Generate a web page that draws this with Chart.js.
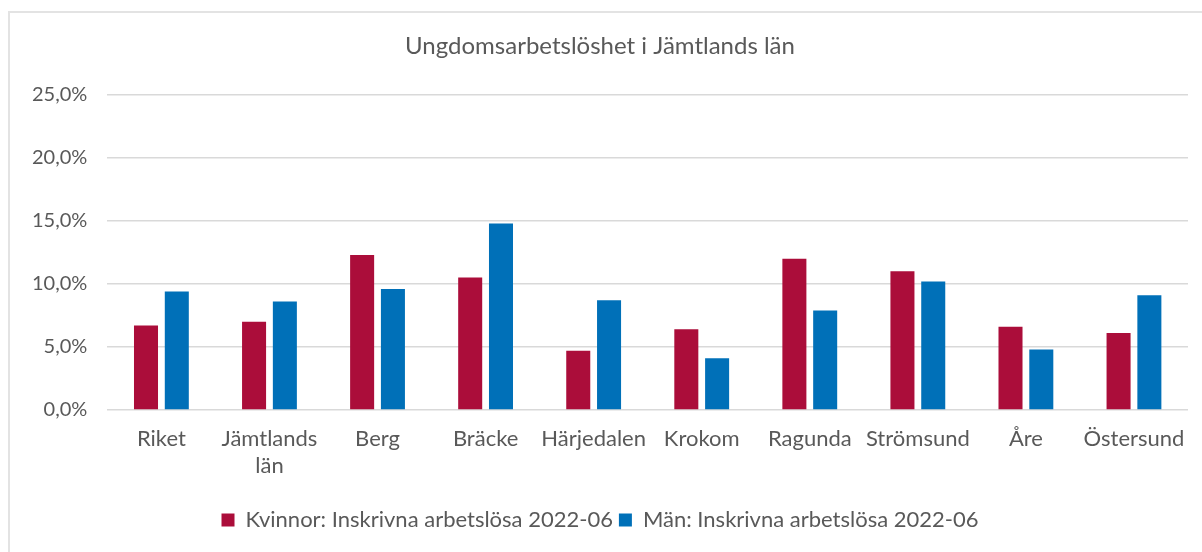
<!DOCTYPE html>
<html>
<head>
<meta charset="utf-8">
<script src="https://cdn.jsdelivr.net/npm/chart.js@4"></script>
<style>
  html, body { margin: 0; padding: 0; background: #fff; overflow: hidden; }
  canvas { display: block; }
</style>
</head>
<body>
<canvas id="chart" width="1202" height="552"></canvas>
<script>
// kommuner / kategorier
const categories = ['Riket', ['Jämtlands', 'län'], 'Berg', 'Bräcke', 'Härjedalen', 'Krokom', 'Ragunda', 'Strömsund', 'Åre', 'Östersund'];
// andel i procent
const kvinnor = [6.7, 7.0, 12.3, 10.5, 4.7, 6.4, 12.0, 11.0, 6.6, 6.1];
const man     = [9.4, 8.6, 9.6, 14.8, 8.7, 4.1, 7.9, 10.2, 4.8, 9.1];
const seriesNames = ['Kvinnor: Inskrivna arbetslösa 2022-06', 'Män: Inskrivna arbetslösa 2022-06'];
const yTicks = [0, 5, 10, 15, 20, 25];

const textColor = '#595959';
Chart.defaults.font.family = 'Lato, "Open Sans", sans-serif';
Chart.defaults.color = textColor;

// ljusgrå ram runt diagrammet (bara vänster + topp syns)
const framePlugin = {
  id: 'frame',
  beforeDraw(chart) {
    const c = chart.ctx;
    c.save();
    c.strokeStyle = '#e3e3e3';
    c.lineWidth = 2;
    c.beginPath();
    c.moveTo(9, chart.height);
    c.lineTo(9, 12);
    c.lineTo(chart.width, 12);
    c.stroke();
    c.restore();
  }
};

const ctx = document.getElementById('chart').getContext('2d');
new Chart(ctx, {
  type: 'bar',
  data: {
    labels: categories,
    datasets: [
      {
        label: seriesNames[0],
        data: kvinnor,
        backgroundColor: '#ab0d3a',
        categoryPercentage: 0.57,
        barPercentage: 0.78
      },
      {
        label: seriesNames[1],
        data: man,
        backgroundColor: '#0070b8',
        categoryPercentage: 0.57,
        barPercentage: 0.78
      }
    ]
  },
  options: {
    responsive: false,
    animation: false,
    layout: { padding: { left: 12, right: 14, top: 32, bottom: 11 } },
    scales: {
      x: {
        grid: { display: false },
        border: { display: false },
        ticks: { font: { size: 22 }, color: textColor, maxRotation: 0, padding: 8 },
        afterFit: axis => { axis.height = 93; }
      },
      y: {
        min: 0,
        max: 25,
        afterBuildTicks: axis => { axis.ticks = yTicks.map(v => ({ value: v })); },
        grid: { color: '#d9d9d9', lineWidth: 1.5, drawTicks: false },
        border: { display: false },
        ticks: {
          font: { size: 20 },
          color: textColor,
          padding: 20,
          callback: v => v.toFixed(1).replace('.', ',') + '%'
        }
      }
    },
    plugins: {
      title: {
        display: true,
        text: 'Ungdomsarbetslöshet i Jämtlands län',
        font: { size: 24, weight: 'normal' },
        color: textColor,
        padding: { top: 0, bottom: 34 }
      },
      legend: {
        position: 'bottom',
        labels: {
          font: { size: 22 },
          color: textColor,
          boxWidth: 13,
          boxHeight: 13,
          padding: 6
        }
      },
      tooltip: { enabled: false }
    }
  },
  plugins: [framePlugin]
});
</script>
</body>
</html>
